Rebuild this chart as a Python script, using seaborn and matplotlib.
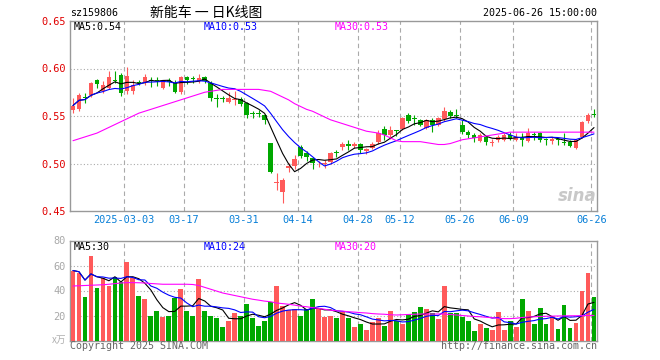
import numpy as np
import pandas as pd
import matplotlib
matplotlib.use("Agg")
import matplotlib.pyplot as plt
import seaborn as sns

# ---- data ----
opens = [0.556, 0.557, 0.570, 0.572, 0.588, 0.576, 0.580, 0.588, 0.593, 0.576,
         0.576, 0.586, 0.585, 0.588, 0.588, 0.580, 0.588, 0.585, 0.575, 0.591,
         0.590, 0.587, 0.591, 0.585, 0.569, 0.569, 0.565, 0.567, 0.568, 0.564,
         0.553, 0.553, 0.551, 0.522, 0.480, 0.470, 0.495, 0.497, 0.517, 0.511,
         0.506, 0.499, 0.499, 0.502, 0.512, 0.517, 0.521, 0.518, 0.521, 0.513,
         0.516, 0.523, 0.536, 0.530, 0.535, 0.536, 0.551, 0.548, 0.546, 0.537,
         0.546, 0.541, 0.547, 0.554, 0.551, 0.541, 0.533, 0.530, 0.524, 0.528,
         0.522, 0.525, 0.525, 0.530, 0.525, 0.528, 0.524, 0.531, 0.532, 0.526,
         0.524, 0.526, 0.523, 0.523, 0.516, 0.528, 0.545, 0.552]
closes = [0.561, 0.572, 0.569, 0.585, 0.584, 0.583, 0.591, 0.587, 0.574, 0.592,
          0.583, 0.585, 0.591, 0.587, 0.587, 0.587, 0.586, 0.575, 0.591, 0.588,
          0.589, 0.590, 0.587, 0.569, 0.568, 0.568, 0.569, 0.568, 0.563, 0.551,
          0.552, 0.552, 0.546, 0.491, 0.481, 0.483, 0.497, 0.505, 0.508, 0.507,
          0.501, 0.500, 0.501, 0.511, 0.511, 0.520, 0.518, 0.521, 0.514, 0.515,
          0.521, 0.532, 0.530, 0.535, 0.534, 0.548, 0.545, 0.547, 0.541, 0.546,
          0.541, 0.548, 0.555, 0.550, 0.550, 0.533, 0.530, 0.527, 0.530, 0.523,
          0.523, 0.528, 0.530, 0.527, 0.528, 0.525, 0.532, 0.530, 0.525, 0.525,
          0.526, 0.525, 0.522, 0.518, 0.525, 0.544, 0.551, 0.551]
highs = [0.569, 0.574, 0.574, 0.586, 0.589, 0.587, 0.597, 0.597, 0.595, 0.602,
         0.588, 0.588, 0.594, 0.591, 0.591, 0.588, 0.590, 0.588, 0.592, 0.592,
         0.592, 0.594, 0.592, 0.587, 0.573, 0.571, 0.575, 0.576, 0.570, 0.565,
         0.555, 0.556, 0.552, 0.522, 0.490, 0.485, 0.501, 0.509, 0.520, 0.513,
         0.507, 0.503, 0.504, 0.512, 0.514, 0.523, 0.525, 0.523, 0.522, 0.516,
         0.523, 0.535, 0.540, 0.539, 0.535, 0.549, 0.553, 0.551, 0.547, 0.547,
         0.548, 0.549, 0.560, 0.556, 0.557, 0.546, 0.535, 0.532, 0.532, 0.529,
         0.526, 0.530, 0.532, 0.533, 0.532, 0.532, 0.537, 0.533, 0.533, 0.527,
         0.528, 0.527, 0.532, 0.525, 0.526, 0.545, 0.553, 0.557]
lows = [0.553, 0.555, 0.564, 0.570, 0.580, 0.574, 0.578, 0.585, 0.571, 0.573,
        0.573, 0.583, 0.583, 0.581, 0.582, 0.578, 0.582, 0.574, 0.573, 0.584,
        0.585, 0.585, 0.585, 0.566, 0.560, 0.565, 0.564, 0.562, 0.561, 0.548,
        0.548, 0.549, 0.542, 0.490, 0.472, 0.458, 0.491, 0.494, 0.506, 0.503,
        0.494, 0.496, 0.495, 0.500, 0.507, 0.514, 0.514, 0.516, 0.511, 0.510,
        0.515, 0.521, 0.525, 0.526, 0.529, 0.535, 0.543, 0.541, 0.539, 0.536,
        0.533, 0.540, 0.545, 0.548, 0.548, 0.531, 0.527, 0.523, 0.523, 0.519,
        0.518, 0.523, 0.524, 0.525, 0.524, 0.518, 0.523, 0.525, 0.523, 0.519,
        0.521, 0.520, 0.519, 0.517, 0.515, 0.527, 0.543, 0.549]
volumes = [56, 54, 35, 68, 42, 50, 44, 51, 47, 63,
           50, 36, 33, 20, 24, 18.5, 20, 34, 41, 24,
           20, 49, 24, 20, 18, 11, 16, 22, 20, 29,
           18, 12, 16, 30.5, 44, 27.6, 24.4, 25, 20, 25.5,
           33, 25, 19, 20, 18.3, 23, 18.3, 11, 13.2, 8.4,
           15, 18.3, 11.6, 23.6, 15.6, 13.2, 21.2, 23, 26.8, 25.2,
           22.4, 17.2, 44, 21.7, 22.4, 19, 15.6, 7.6, 13.2, 10,
           8.4, 22.8, 8.4, 15.6, 10.8, 33.2, 23.6, 13.2, 25.7, 13.2,
           19.6, 9.2, 28.4, 10, 14, 39.6, 54, 34.8]
price_ma30 = [0.524, 0.526, 0.528, 0.530, 0.532, 0.535, 0.538, 0.541, 0.544, 0.547,
              0.550, 0.553, 0.555, 0.557, 0.559, 0.561, 0.563, 0.565, 0.567, 0.569,
              0.571, 0.573, 0.575, 0.576, 0.577, 0.578, 0.578, 0.578, 0.578, 0.578,
              0.578, 0.578, 0.577, 0.576, 0.573, 0.570, 0.567, 0.563, 0.560, 0.557,
              0.555, 0.552, 0.549, 0.546, 0.544, 0.542, 0.540, 0.538, 0.536, 0.534,
              0.533, 0.532, 0.530, 0.527, 0.524, 0.523, 0.523, 0.523, 0.523, 0.522,
              0.521, 0.520, 0.520, 0.521, 0.523, 0.525, 0.526, 0.527, 0.528, 0.529,
              0.530, 0.531, 0.532, 0.533, 0.533, 0.533, 0.533, 0.533, 0.533, 0.533,
              0.533, 0.533, 0.533, 0.533, 0.533, 0.533, 0.533, 0.533]
vol_ma30 = [43.6, 43.8, 44, 44.2, 44.4, 44.6, 45, 45.5, 46, 46.3,
            46.3, 46.2, 46, 45.6, 45.3, 45, 45, 45, 45, 45,
            44.8, 44, 42.5, 41, 39.5, 38, 37, 36, 35, 34,
            33, 32.3, 31.5, 31, 30, 29.5, 29, 28.3, 27.5, 27,
            26.3, 25.7, 25, 24.2, 23.8, 23.5, 23, 22.7, 22.3, 22,
            21.5, 21.2, 21, 20.6, 20.4, 20.6, 20.8, 21, 21.2, 21.2,
            21.2, 21.2, 21.2, 20.8, 20.4, 20, 19.6, 19.2, 19, 18.6,
            18.2, 17.8, 17.5, 17.5, 17.8, 18.4, 18.8, 19, 19.2, 19.4,
            19.5, 19.6, 19.7, 19.8, 19.8, 19.9, 20, 20]
tick_idx = [9, 19, 29, 38, 48, 55, 65, 74, 87]
tick_labels = ['2025-03-03', '03-17', '03-31', '04-14', '04-28',
               '05-12', '05-26', '06-09', '06-26']

RED = '#FF5A5A'
GREEN = '#00A800'
GRID = '#AAAAAA'
MONO = 'DejaVu Sans Mono'
CJK = ['Noto Sans CJK SC', 'DejaVu Sans']
LW = 0.8

sns.set_theme(style='white')
plt.rcParams['font.family'] = ['DejaVu Sans Mono', 'Noto Sans CJK SC']

o = np.array(opens)
c = np.array(closes)
h = np.array(highs)
l = np.array(lows)
v = np.array(volumes)
idx = np.arange(len(c))
up = c >= o
colors = np.where(up, RED, GREEN)

ma5 = pd.Series(c).rolling(5, min_periods=1).mean()
ma10 = pd.Series(c).rolling(10, min_periods=1).mean()
vma5 = pd.Series(v).rolling(5, min_periods=1).mean()
vma10 = pd.Series(v).rolling(10, min_periods=1).mean()

W, H = 660, 360
fig = plt.figure(figsize=(W / 100, H / 100), dpi=100)
fig.patch.set_facecolor('white')


def box(left, top, right, bottom):
    return [left / W, 1 - bottom / H, (right - left) / W, (bottom - top) / H]


def ftext(x, y, s, **kw):
    fig.text(x / W, 1 - y / H, s, **kw)


ax1 = fig.add_axes(box(70, 21, 597, 211))
ax2 = fig.add_axes(box(70, 240.5, 597, 340.5))

# ---- price panel ----
ax1.vlines(idx, l, h, colors=colors, lw=LW, zorder=3)
body = np.maximum(np.abs(c - o), 0.0009)
ax1.bar(idx, body, bottom=np.minimum(o, c), width=0.75, color=colors,
        linewidth=0, zorder=4)
sns.lineplot(x=idx, y=ma5.values, ax=ax1, color='black', lw=LW, zorder=5)
sns.lineplot(x=idx, y=ma10.values, ax=ax1, color='#0000FF', lw=LW, zorder=5)
sns.lineplot(x=idx, y=price_ma30, ax=ax1, color='#FF00FF', lw=LW, zorder=5)

ax1.set_xlim(-0.5, len(c) - 0.5)
ax1.set_ylim(0.45, 0.65)
ax1.set_yticks([0.45, 0.50, 0.55, 0.60, 0.65])
ax1.set_yticklabels(['%.2f' % t for t in [0.45, 0.50, 0.55, 0.60, 0.65]],
                    color='#E00000', fontsize=7.4, family=MONO)
for yv in [0.50, 0.55, 0.60]:
    ax1.axhline(yv, color=GRID, lw=LW, ls=(0, (1, 2)), zorder=1)
ax1.set_xticks([i - 0.45 for i in tick_idx])
ax1.set_xticklabels(tick_labels, color='#0A80D8', fontsize=7.4, family=MONO)

# ---- volume panel ----
vdf = pd.DataFrame({'x': idx, 'vol': v, 'dir': np.where(up, 'up', 'down')})
sns.barplot(data=vdf, x='x', y='vol', hue='dir', palette={'up': RED, 'down': GREEN},
            dodge=False, native_scale=True, width=0.8, legend=False,
            linewidth=0, saturation=1, ax=ax2, zorder=3)
sns.lineplot(x=idx, y=vma5.values, ax=ax2, color='black', lw=LW, zorder=5)
sns.lineplot(x=idx, y=vma10.values, ax=ax2, color='#0000FF', lw=LW, zorder=5)
sns.lineplot(x=idx, y=vol_ma30, ax=ax2, color='#FF00FF', lw=LW, zorder=5)
ax2.set_xlim(-0.5, len(c) - 0.5)
ax2.set_ylim(0, 80)
ax2.set_yticks([20, 40, 60, 80])
ax2.set_yticklabels(['20', '40', '60', '80'], color='#A8A8A8', fontsize=7.4, family=MONO)
for yv in [20, 40, 60]:
    ax2.axhline(yv, color=GRID, lw=LW, ls=(0, (1, 2)), zorder=1)
ax2.set_xticks([i - 0.45 for i in tick_idx])
ax2.set_xticklabels([])

for ax in (ax1, ax2):
    for i in tick_idx:
        ax.axvline(i - 0.45, color=GRID, lw=LW, ls=(0, (4, 3)), zorder=1)
    for sp in ax.spines.values():
        sp.set_color('#999999')
        sp.set_linewidth(1)
    ax.tick_params(length=0, pad=3)
    ax.grid(False)
    ax.set_xlabel('')
    ax.set_ylabel('')

# ---- texts ----
fs = 7.2
ftext(70, 13, 'sz159806', family=MONO, fontsize=fs, color='black', va='center')
ftext(206, 13, '新能车 一 日K线图', family=CJK, fontsize=10, color='black',
      va='center', ha='center')
ftext(597, 13, '2025-06-26 15:00:00', family=MONO, fontsize=fs, color='black',
      va='center', ha='right')

ftext(74, 26.5, 'MA5:0.54', family=MONO, fontsize=fs, color='black', va='center')
ftext(204, 26.5, 'MA10:0.53', family=MONO, fontsize=fs, color='#0000FF', va='center')
ftext(335, 26.5, 'MA30:0.53', family=MONO, fontsize=fs, color='#FF00FF', va='center')

ftext(74, 246.5, 'MA5:30', family=MONO, fontsize=fs, color='black', va='center')
ftext(204, 246.5, 'MA10:24', family=MONO, fontsize=fs, color='#0000FF', va='center')
ftext(335, 246.5, 'MA30:20', family=MONO, fontsize=fs, color='#FF00FF', va='center')

ftext(66, 340, 'x万', family=CJK, fontsize=7, color='#B0B0B0', va='center',
      ha='right', style='italic')
ftext(70, 346, 'Copyright 2025 SINA.COM', family=MONO, fontsize=fs,
      color='#666666', va='center')
ftext(597, 346, 'http://finance.sina.com.cn', family=MONO, fontsize=fs,
      color='#666666', va='center', ha='right')
ftext(597, 196, 'sina', family='DejaVu Sans', fontsize=12, color='#C8C8C8',
      va='center', ha='right', style='italic', weight='bold')

fig.savefig('out.png', dpi=100, facecolor='white')
